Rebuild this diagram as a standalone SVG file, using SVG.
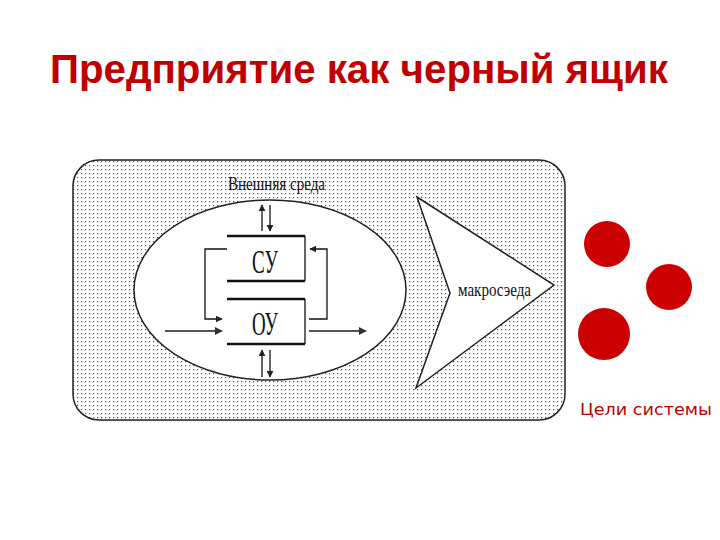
<svg xmlns="http://www.w3.org/2000/svg" width="720" height="540" viewBox="0 0 720 540">
<defs>
<pattern id="dots" width="4" height="4" patternUnits="userSpaceOnUse">
<rect width="4" height="4" fill="#ffffff"/>
<rect x="1" y="1" width="1.2" height="1.2" fill="#555555"/>
</pattern>
<marker id="ah" viewBox="0 0 10 10" refX="9" refY="5" markerWidth="7" markerHeight="7" markerUnits="userSpaceOnUse" orient="auto">
<path d="M0,0 L10,5 L0,10 Z" fill="#222"/>
</marker>
<marker id="ahg" viewBox="0 0 10 10" refX="9" refY="5" markerWidth="8" markerHeight="8" markerUnits="userSpaceOnUse" orient="auto">
<path d="M0,0 L10,5 L0,10 Z" fill="#333"/>
</marker>
</defs>
<style>
.title{font-family:"Liberation Sans","DejaVu Sans",sans-serif;font-weight:bold;fill:#c00000}
.goaltxt{font-family:"DejaVu Sans","Liberation Sans",sans-serif;font-weight:normal;fill:#c00000}
.lbl{font-family:"Liberation Serif","DejaVu Serif",serif;fill:#111}
.ln{stroke:#111;stroke-width:1.3;fill:none}
.thick{stroke:#111;stroke-width:2.5;fill:none}
.gr{stroke:#555;stroke-width:2;fill:none}
.goal{fill:#cc0000}
</style>
<text class="title" x="50" y="83" font-size="40" textLength="618" lengthAdjust="spacingAndGlyphs">Предприятие как черный ящик</text>

<g id="environment">
<rect x="73" y="160" width="492" height="260" rx="26" ry="26" fill="url(#dots)" stroke="#222" stroke-width="1.5"/>
<text class="lbl" x="228" y="190" font-size="19" textLength="97" lengthAdjust="spacingAndGlyphs">Внешняя среда</text>
</g>

<g id="enterprise">
<ellipse cx="270" cy="290" rx="136" ry="90" fill="#ffffff" stroke="#222" stroke-width="1.5"/>
</g>

<g id="macro">
<path d="M417,197 L554,285 L416,388 L450,293 Z" fill="#ffffff" stroke="#222" stroke-width="1.5"/>
<text class="lbl" x="458" y="296" font-size="18" textLength="73" lengthAdjust="spacingAndGlyphs">макросэеда</text>
</g>

<g id="su">
<path class="thick" d="M227,236 L305,236 M227,281 L305,281"/>
<path class="ln" d="M305,236 L305,281"/>
<text class="lbl" x="265" y="273" font-size="33" text-anchor="middle" textLength="26" lengthAdjust="spacingAndGlyphs">СУ</text>
</g>

<g id="ou">
<path class="thick" d="M227,299 L305,299 M227,344 L305,344"/>
<path class="ln" d="M305,299 L305,344"/>
<text class="lbl" x="265" y="335" font-size="33" text-anchor="middle" textLength="26" lengthAdjust="spacingAndGlyphs">ОУ</text>
</g>

<g id="connectors">
<path class="ln" d="M227,249 L205,249 L205,319 L222,319" marker-end="url(#ah)"/>
<path class="ln" d="M309,319 L327,319 L327,249 L310,249" marker-end="url(#ah)"/>
<path class="gr" d="M165,331 L222,331" marker-end="url(#ahg)"/>
<path class="gr" d="M309,331 L366,331" marker-end="url(#ahg)"/>
<path class="ln" d="M262,231 L262,205" marker-end="url(#ah)"/>
<path class="ln" d="M270,205 L270,231" marker-end="url(#ah)"/>
<path class="ln" d="M262,377 L262,350" marker-end="url(#ah)"/>
<path class="ln" d="M270,350 L270,377" marker-end="url(#ah)"/>
</g>

<g id="goals">
<circle class="goal" cx="607" cy="244" r="23"/>
<circle class="goal" cx="669" cy="287" r="23"/>
<circle class="goal" cx="604" cy="334" r="26"/>
<text class="goaltxt" x="580" y="415" font-size="15" textLength="132" lengthAdjust="spacingAndGlyphs">Цели системы</text>
</g>
</svg>
